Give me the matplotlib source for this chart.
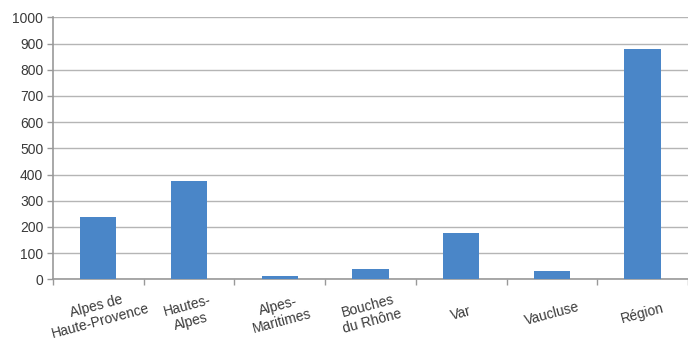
import matplotlib
matplotlib.use("Agg")
import matplotlib.pyplot as plt
import numpy as np

categories = ["Alpes de\nHaute-Provence", "Hautes-\nAlpes", "Alpes-\nMaritimes",
              "Bouches\ndu Rhône", "Var", "Vaucluse", "Région"]
values = [239, 375, 11, 40, 178, 32, 878]
y_ticks = [0, 100, 200, 300, 400, 500, 600, 700, 800, 900, 1000]

plt.rcParams["font.family"] = ["Liberation Sans", "DejaVu Sans"]

fig = plt.figure(figsize=(6.88, 3.49), dpi=100)
ax = fig.add_axes([0.077, 0.2, 0.923, 0.75])

x = np.arange(len(categories))
ax.bar(x, values, width=0.4, color="#4a86c8", zorder=3)

ax.set_xlim(-0.5, len(categories) - 0.5)
ax.set_ylim(0, 1000)
ax.set_yticks(y_ticks)
ax.set_yticklabels([str(v) for v in y_ticks], fontsize=10, color="#3a3a3a")
ax.yaxis.grid(True, color="#b5b5b5", linewidth=1.0, zorder=0)

# ticks at category boundaries, labels centred under each bar
ax.set_xticks(np.arange(len(categories) + 1) - 0.5)
ax.set_xticklabels([])
ax.tick_params(axis="x", length=4, color="#999999", width=1)
ax.tick_params(axis="y", length=4, color="#999999", width=1, pad=3)
for xi, lab in zip(x, categories):
    ax.text(xi, -132, lab, ha="center", va="center", rotation=15,
            rotation_mode="anchor", fontsize=10, color="#3a3a3a",
            multialignment="center", linespacing=1.15,
            transform=ax.transData)

for side in ("top", "right"):
    ax.spines[side].set_visible(False)
ax.spines["left"].set_color("#999999")
ax.spines["bottom"].set_color("#999999")
ax.spines["left"].set_linewidth(1.2)
ax.spines["bottom"].set_linewidth(1.2)

fig.savefig("out.png", dpi=100)
